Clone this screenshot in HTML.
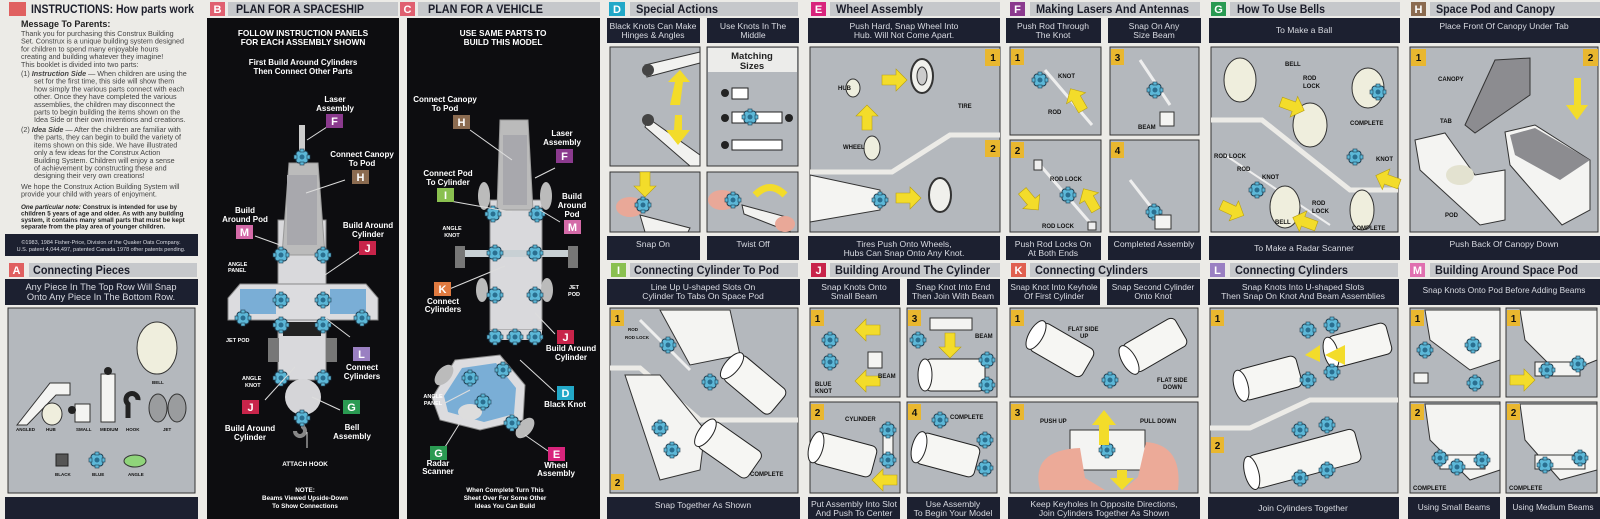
<!DOCTYPE html>
<html><head><meta charset="utf-8"><style>
html,body{margin:0;padding:0;background:#ecebe7;}
svg{display:block}
text{font-family:"Liberation Sans",sans-serif}
.h{font-weight:bold;font-size:12px;fill:#1b1d2a}
.bl{font-weight:bold;font-size:11px;fill:#fff}
.c{font-size:9.3px;fill:#d9dbe2;text-anchor:middle}
.w{font-weight:bold;fill:#fff;text-anchor:middle;font-size:8px}
.lb{font-weight:bold;fill:#111;font-size:6px}
.t{font-size:7.2px;fill:#444}
.n{font-weight:bold;font-size:10px;fill:#111;text-anchor:middle}
</style></head><body>
<svg width="1600" height="519" viewBox="0 0 1600 519" xmlns="http://www.w3.org/2000/svg">
<defs>
<g id="k"><rect x="-6" y="-6" width="12" height="12" rx="3" fill="#5cb8d8" stroke="#1d3d50" stroke-width="1"/><circle r="2.5" fill="#2a6f90"/><rect x="-2" y="-8" width="4" height="3" fill="#5cb8d8" stroke="#1d3d50" stroke-width=".6"/><rect x="-2" y="5" width="4" height="3" fill="#5cb8d8" stroke="#1d3d50" stroke-width=".6"/><rect x="-8" y="-2" width="3" height="4" fill="#5cb8d8" stroke="#1d3d50" stroke-width=".6"/><rect x="5" y="-2" width="3" height="4" fill="#5cb8d8" stroke="#1d3d50" stroke-width=".6"/></g>
<g id="a"><polygon points="-12,-5 2,-5 2,-11 13,0 2,11 2,5 -12,5" fill="#f3dc2a" stroke="#b9a010" stroke-width=".6"/></g>
<g id="cy"><rect x="-30" y="-16" width="60" height="32" rx="6" fill="#f6f6f3" stroke="#222" stroke-width="1"/><ellipse cx="-30" cy="0" rx="7" ry="16" fill="#fff" stroke="#222"/></g>
</defs>
<rect width="1600" height="519" fill="#ecebe7"/>

<!-- ========== A TOP ========== -->
<rect x="9" y="2" width="17" height="14" fill="#e06060"/>
<text x="31" y="13" class="h" textLength="163" lengthAdjust="spacingAndGlyphs">INSTRUCTIONS: How parts work</text>
<text x="21" y="27" style="font-weight:bold;font-size:9px;fill:#222">Message To Parents:</text>
<text x="21" y="36" class="t">Thank you for purchasing this Construx Building</text>
<text x="21" y="43.7" class="t">Set. Construx is a unique building system designed</text>
<text x="21" y="51.4" class="t">for children to spend many enjoyable hours</text>
<text x="21" y="59.1" class="t">creating and building whatever they imagine!</text>
<text x="21" y="67" class="t">This booklet is divided into two parts:</text>
<text x="21" y="76" class="t">(1) <tspan font-weight="bold" font-style="italic">Instruction Side</tspan> — When children are using the</text>
<text x="34" y="83.7" class="t">set for the first time, this side will show them</text>
<text x="34" y="91.4" class="t">how simply the various parts connect with each</text>
<text x="34" y="99.1" class="t">other. Once they have completed the various</text>
<text x="34" y="106.8" class="t">assemblies, the children may disconnect the</text>
<text x="34" y="114.5" class="t">parts to begin building the items shown on the</text>
<text x="34" y="122.2" class="t">Idea Side or their own inventions and creations.</text>
<text x="21" y="132" class="t">(2) <tspan font-weight="bold" font-style="italic">Idea Side</tspan> — After the children are familiar with</text>
<text x="34" y="139.7" class="t">the parts, they can begin to build the variety of</text>
<text x="34" y="147.4" class="t">items shown on this side. We have illustrated</text>
<text x="34" y="155.1" class="t">only a few ideas for the Construx Action</text>
<text x="34" y="162.8" class="t">Building System. Children will enjoy a sense</text>
<text x="34" y="170.5" class="t">of achievement by constructing these and</text>
<text x="34" y="178.2" class="t">designing their very own creations!</text>
<text x="21" y="189" class="t">We hope the Construx Action Building System will</text>
<text x="21" y="196.7" class="t">provide your child with years of enjoyment.</text>
<text x="21" y="209" style="font-weight:bold;font-size:6.3px;fill:#222"><tspan font-style="italic">One particular note:</tspan> Construx is intended for use by</text>
<text x="21" y="215.5" style="font-weight:bold;font-size:6.3px;fill:#222">children 5 years of age and older. As with any building</text>
<text x="21" y="222" style="font-weight:bold;font-size:6.3px;fill:#222">system, it contains many small parts that must be kept</text>
<text x="21" y="228.5" style="font-weight:bold;font-size:6.3px;fill:#222">separate from the play area of younger children.</text>
<rect x="5" y="234" width="193" height="22" fill="#1c2030"/>
<text x="101" y="244" class="c" style="font-size:5.5px">©1983, 1984 Fisher-Price, Division of the Quaker Oats Company.</text>
<text x="101" y="251" class="c" style="font-size:5.5px">U.S. patent 4,044,497, patented Canada 1978 other patents pending.</text>

<!-- ========== A BOTTOM ========== -->
<rect x="9" y="263" width="15" height="14" fill="#e06060"/><text x="16.5" y="274" class="bl" text-anchor="middle">A</text>
<rect x="29" y="263" width="168" height="14" fill="#c6c8cb"/>
<text x="33" y="274" class="h" textLength="97" lengthAdjust="spacingAndGlyphs">Connecting Pieces</text>
<rect x="5" y="279" width="193" height="26" fill="#1c2030"/>
<text x="101" y="290" class="c">Any Piece In The Top Row Will Snap</text>
<text x="101" y="300" class="c">Onto Any Piece In The Bottom Row.</text>
<rect x="8" y="308" width="187" height="185" fill="#b4b8bd" stroke="#333"/>
<ellipse cx="157" cy="348" rx="20" ry="26" fill="#efeedd" stroke="#333"/><text x="152" y="384" class="lb" style="font-size:4.5px">BELL</text>
<polygon points="17,425 50,383 70,383 70,395 56,395 27,425" fill="#f4f4f2" stroke="#333"/>
<ellipse cx="52" cy="414" rx="10" ry="11" fill="#efeedd" stroke="#333"/>
<rect x="75" y="404" width="15" height="18" fill="#f4f4f2" stroke="#333"/><circle cx="72" cy="410" r="4" fill="#222"/>
<rect x="101" y="374" width="14" height="48" fill="#f4f4f2" stroke="#333"/><circle cx="108" cy="371" r="4" fill="#222"/>
<path d="M128,418 v-14 a6,6 0 1 1 10,-4" stroke="#222" stroke-width="5" fill="none"/>
<ellipse cx="158" cy="408" rx="9" ry="14" fill="#9a9c9e" stroke="#333"/><ellipse cx="177" cy="408" rx="9" ry="14" fill="#9a9c9e" stroke="#333"/>
<g class="lb" style="font-size:4.5px"><text x="16" y="431">ANGLED</text><text x="46" y="431">HUB</text><text x="76" y="431">SMALL</text><text x="100" y="431">MEDIUM</text><text x="126" y="431">HOOK</text><text x="163" y="431">JET</text></g>
<use href="#k" x="97" y="460"/>
<rect x="56" y="454" width="12" height="12" fill="#555" stroke="#222"/>
<ellipse cx="135" cy="461" rx="11" ry="6" fill="#8fd47a" stroke="#333"/>
<g class="lb" style="font-size:4.5px"><text x="55" y="476">BLACK</text><text x="92" y="476">BLUE</text><text x="128" y="476">ANGLE</text></g>
<rect x="5" y="497" width="193" height="22" fill="#1c2030"/>

<!-- ========== B ========== -->
<rect x="210" y="2" width="15" height="14" fill="#e06070"/><text x="217.5" y="13" class="bl" text-anchor="middle">B</text>
<rect x="228" y="2" width="170" height="14" fill="#c6c8cb"/><text x="236" y="13" class="h" textLength="128" lengthAdjust="spacingAndGlyphs">PLAN FOR A SPACESHIP</text>
<rect x="207" y="18" width="192" height="501" fill="#0d0d10"/>
<text x="303" y="36" class="w" style="font-size:8.3px">FOLLOW INSTRUCTION PANELS</text>
<text x="303" y="45" class="w" style="font-size:8.3px">FOR EACH ASSEMBLY SHOWN</text>
<text x="303" y="65" class="w">First Build Around Cylinders</text>
<text x="303" y="74" class="w">Then Connect Other Parts</text>
<rect x="299" y="125" width="6" height="32" fill="#ccc"/>
<rect x="278" y="220" width="48" height="160" fill="#d9d9dc" stroke="#888"/>
<polygon points="289,163 318,163 325,255 282,255" fill="#bbb" stroke="#999"/>
<rect x="287" y="175" width="30" height="70" fill="#a8a8ad"/>
<polygon points="240,284 366,284 378,298 378,320 228,320 228,298" fill="#dcdcdf" stroke="#888"/>
<rect x="240" y="289" width="36" height="25" fill="#7aaed6"/><rect x="330" y="289" width="36" height="25" fill="#7aaed6"/>
<rect x="283" y="322" width="38" height="14" fill="#222"/>
<rect x="268" y="338" width="11" height="24" fill="#777"/><rect x="326" y="338" width="11" height="24" fill="#777"/>
<circle cx="303" cy="397" r="18" fill="#d5d5d8"/>
<path d="M303,415 v12 a5,5 0 1 1 -8,4" stroke="#888" stroke-width="4" fill="none"/>
<use href="#k" x="302" y="157"/><use href="#k" x="281" y="255"/><use href="#k" x="323" y="255"/><use href="#k" x="281" y="300"/><use href="#k" x="323" y="300"/><use href="#k" x="243" y="318"/><use href="#k" x="362" y="318"/><use href="#k" x="281" y="325"/><use href="#k" x="323" y="325"/><use href="#k" x="281" y="378"/><use href="#k" x="323" y="378"/><use href="#k" x="302" y="418"/>
<g stroke="#ddd" stroke-width="1"><line x1="307" y1="140" x2="330" y2="125"/><line x1="306" y1="193" x2="345" y2="180"/><line x1="255" y1="236" x2="280" y2="245"/><line x1="363" y1="249" x2="325" y2="275"/><line x1="350" y1="337" x2="325" y2="318"/><line x1="265" y1="400" x2="295" y2="367"/><line x1="340" y1="410" x2="312" y2="397"/><line x1="307" y1="448" x2="307" y2="432"/></g>
<text x="335" y="102" class="w">Laser</text><text x="335" y="111" class="w">Assembly</text>
<rect x="326" y="114" width="17" height="14" fill="#8b3a8e"/><text x="334.5" y="125" class="bl" text-anchor="middle">F</text>
<text x="362" y="157" class="w">Connect Canopy</text><text x="362" y="166" class="w">To  Pod</text>
<rect x="352" y="170" width="17" height="14" fill="#8b6b50"/><text x="360.5" y="181" class="bl" text-anchor="middle">H</text>
<text x="245" y="213" class="w">Build</text><text x="245" y="222" class="w">Around Pod</text>
<rect x="236" y="225" width="17" height="14" fill="#d46aa8"/><text x="244.5" y="236" class="bl" text-anchor="middle">M</text>
<text x="368" y="228" class="w">Build Around</text><text x="368" y="237" class="w">Cylinder</text>
<rect x="359" y="241" width="17" height="14" fill="#c8244a"/><text x="367.5" y="252" class="bl" text-anchor="middle">J</text>
<text x="228" y="266" class="lb" style="fill:#fff;font-size:5.5px">ANGLE</text><text x="228" y="272" class="lb" style="fill:#fff;font-size:5.5px">PANEL</text>
<text x="226" y="342" class="lb" style="fill:#fff;font-size:5.5px">JET POD</text>
<rect x="353" y="347" width="17" height="14" fill="#9a80c2"/><text x="361.5" y="358" class="bl" text-anchor="middle">L</text>
<text x="362" y="370" class="w">Connect</text><text x="362" y="379" class="w">Cylinders</text>
<text x="242" y="380" class="lb" style="fill:#fff;font-size:5.5px">ANGLE</text><text x="245" y="387" class="lb" style="fill:#fff;font-size:5.5px">KNOT</text>
<rect x="242" y="400" width="17" height="14" fill="#c8244a"/><text x="250.5" y="411" class="bl" text-anchor="middle">J</text>
<text x="250" y="431" class="w">Build Around</text><text x="250" y="440" class="w">Cylinder</text>
<rect x="343" y="400" width="17" height="14" fill="#2a9a52"/><text x="351.5" y="411" class="bl" text-anchor="middle">G</text>
<text x="352" y="430" class="w">Bell</text><text x="352" y="439" class="w">Assembly</text>
<text x="305" y="466" class="w" style="font-size:6.3px">ATTACH HOOK</text>
<text x="305" y="492" class="w" style="font-size:6.3px">NOTE:</text>
<text x="305" y="500" class="w" style="font-size:6.3px">Beams Viewed Upside-Down</text>
<text x="305" y="508" class="w" style="font-size:6.3px">To Show Connections</text>

<!-- ========== C ========== -->
<rect x="400" y="2" width="15" height="14" fill="#e06070"/><text x="407.5" y="13" class="bl" text-anchor="middle">C</text>
<rect x="418" y="2" width="182" height="14" fill="#c6c8cb"/><text x="428" y="13" class="h" textLength="115" lengthAdjust="spacingAndGlyphs">PLAN FOR A VEHICLE</text>
<rect x="407" y="18" width="193" height="501" fill="#0d0d10"/>
<text x="503" y="36" class="w" style="font-size:8.3px">USE SAME PARTS TO</text>
<text x="503" y="45" class="w" style="font-size:8.3px">BUILD THIS MODEL</text>
<rect x="490" y="200" width="52" height="130" fill="#d9d9dc" stroke="#888"/>
<polygon points="500,120 528,120 533,210 497,210" fill="#bbb" stroke="#999"/>
<rect x="503" y="135" width="24" height="70" fill="#a8a8ad"/>
<ellipse cx="484" cy="196" rx="6" ry="14" fill="#bbb"/><ellipse cx="546" cy="196" rx="6" ry="14" fill="#bbb"/>
<rect x="457" y="250" width="120" height="7" fill="#c8d0d4"/>
<rect x="455" y="246" width="10" height="22" fill="#777"/><rect x="568" y="246" width="10" height="22" fill="#777"/>
<ellipse cx="482" cy="290" rx="6" ry="12" fill="#bbb"/><ellipse cx="547" cy="290" rx="6" ry="12" fill="#bbb"/>
<rect x="490" y="330" width="52" height="10" fill="#d9d9dc"/>
<polygon points="455,360 500,355 525,385 523,420 480,430 440,420 432,398" fill="#dcdcdf" stroke="#888"/>
<polygon points="462,368 496,363 516,388 514,414 484,422 448,412 444,396" fill="#7aaed6"/>
<ellipse cx="444" cy="375" rx="7" ry="12" fill="#bbb" transform="rotate(40 444 375)"/><ellipse cx="525" cy="428" rx="7" ry="12" fill="#bbb" transform="rotate(40 525 428)"/>
<ellipse cx="470" cy="412" rx="12" ry="8" fill="#ddd"/>
<use href="#k" x="493" y="214"/><use href="#k" x="537" y="214"/><use href="#k" x="495" y="253"/><use href="#k" x="535" y="253"/><use href="#k" x="495" y="295"/><use href="#k" x="535" y="295"/><use href="#k" x="495" y="337"/><use href="#k" x="515" y="337"/><use href="#k" x="535" y="337"/><use href="#k" x="503" y="370"/><use href="#k" x="470" y="378"/><use href="#k" x="483" y="402"/><use href="#k" x="512" y="423"/>
<g stroke="#ddd" stroke-width="1"><line x1="470" y1="130" x2="512" y2="160"/><line x1="555" y1="168" x2="535" y2="178"/><line x1="450" y1="201" x2="512" y2="212"/><line x1="560" y1="222" x2="540" y2="210"/><line x1="447" y1="290" x2="505" y2="266"/><line x1="555" y1="334" x2="535" y2="313"/><line x1="555" y1="392" x2="520" y2="360"/><line x1="445" y1="403" x2="470" y2="390"/><line x1="445" y1="447" x2="468" y2="410"/><line x1="548" y1="451" x2="525" y2="435"/></g>
<text x="445" y="102" class="w">Connect Canopy</text><text x="445" y="111" class="w">To  Pod</text>
<rect x="453" y="115" width="17" height="14" fill="#8b6b50"/><text x="461.5" y="126" class="bl" text-anchor="middle">H</text>
<text x="562" y="136" class="w">Laser</text><text x="562" y="145" class="w">Assembly</text>
<rect x="556" y="149" width="17" height="14" fill="#8b3a8e"/><text x="564.5" y="160" class="bl" text-anchor="middle">F</text>
<text x="448" y="176" class="w">Connect  Pod</text><text x="448" y="185" class="w">To Cylinder</text>
<rect x="437" y="188" width="17" height="14" fill="#8ac050"/><text x="445.5" y="199" class="bl" text-anchor="middle">I</text>
<text x="572" y="199" class="w">Build</text><text x="572" y="208" class="w">Around</text><text x="572" y="217" class="w">Pod</text>
<rect x="564" y="220" width="17" height="14" fill="#d46aa8"/><text x="572.5" y="231" class="bl" text-anchor="middle">M</text>
<text x="452" y="230" class="w" style="font-size:5.5px">ANGLE</text><text x="452" y="237" class="w" style="font-size:5.5px">KNOT</text>
<rect x="434" y="282" width="17" height="14" fill="#e07a40"/><text x="442.5" y="293" class="bl" text-anchor="middle">K</text>
<text x="443" y="304" class="w">Connect</text><text x="443" y="312" class="w">Cylinders</text>
<text x="574" y="289" class="w" style="font-size:5.5px">JET</text><text x="574" y="296" class="w" style="font-size:5.5px">POD</text>
<rect x="557" y="330" width="17" height="14" fill="#c8244a"/><text x="565.5" y="341" class="bl" text-anchor="middle">J</text>
<text x="571" y="351" class="w">Build Around</text><text x="571" y="360" class="w">Cylinder</text>
<rect x="557" y="386" width="17" height="14" fill="#22a8c8"/><text x="565.5" y="397" class="bl" text-anchor="middle">D</text>
<text x="565" y="407" class="w">Black Knot</text>
<text x="433" y="398" class="w" style="font-size:5.5px">ANGLE</text><text x="433" y="405" class="w" style="font-size:5.5px">PANEL</text>
<rect x="430" y="446" width="17" height="14" fill="#2a9a52"/><text x="438.5" y="457" class="bl" text-anchor="middle">G</text>
<text x="438" y="466" class="w">Radar</text><text x="438" y="474" class="w">Scanner</text>
<rect x="548" y="447" width="17" height="14" fill="#d8247c"/><text x="556.5" y="458" class="bl" text-anchor="middle">E</text>
<text x="556" y="468" class="w">Wheel</text><text x="556" y="476" class="w">Assembly</text>
<text x="505" y="492" class="w" style="font-size:6.3px">When Complete Turn This</text>
<text x="505" y="500" class="w" style="font-size:6.3px">Sheet Over For Some Other</text>
<text x="505" y="508" class="w" style="font-size:6.3px">Ideas You Can Build</text>

<!-- ========== D ========== -->
<rect x="609" y="2" width="16" height="14" fill="#22a8c8"/><text x="617" y="13" class="bl" text-anchor="middle">D</text>
<rect x="630" y="2" width="168" height="14" fill="#c6c8cb"/><text x="636" y="13" class="h" textLength="82" lengthAdjust="spacingAndGlyphs">Special Actions</text>
<rect x="607" y="18" width="93" height="25" fill="#1c2030"/><text x="653" y="29" class="c" style="font-size:8.6px">Black Knots Can Make</text><text x="653" y="38" class="c" style="font-size:8.6px">Hinges &amp; Angles</text>
<rect x="707" y="18" width="92" height="25" fill="#1c2030"/><text x="753" y="29" class="c" style="font-size:8.6px">Use Knots In The</text><text x="753" y="38" class="c" style="font-size:8.6px">Middle</text>
<rect x="610" y="47" width="90" height="119" fill="#b4b8bd" stroke="#333"/>
<polygon points="645,65 700,52 700,63 647,77" fill="#f2f2f0" stroke="#333"/><circle cx="648" cy="70" r="6" fill="#444"/>
<polygon points="648,118 700,155 700,166 690,166 645,127" fill="#f2f2f0" stroke="#333"/><circle cx="648" cy="120" r="6" fill="#444"/>
<polygon points="670,105 675,82 668,82 680,70 690,82 683,82 680,105" fill="#f3dc2a"/>
<polygon points="675,115 682,115 682,130 690,130 678,145 666,130 674,130" fill="#f3dc2a"/>
<rect x="707" y="47" width="91" height="119" fill="#b4b8bd" stroke="#333"/>
<rect x="708" y="48" width="89" height="24" fill="#ececea"/>
<text x="752" y="59" text-anchor="middle" style="font-weight:bold;font-size:9.5px;fill:#222">Matching</text>
<text x="752" y="69" text-anchor="middle" style="font-weight:bold;font-size:9.5px;fill:#222">Sizes</text>
<rect x="732" y="88" width="16" height="11" fill="#fff" stroke="#222"/><rect x="732" y="112" width="50" height="11" fill="#fff" stroke="#222"/><use href="#k" x="750" y="117"/>
<rect x="732" y="140" width="50" height="10" fill="#fff" stroke="#222"/>
<circle cx="725" cy="93" r="4" fill="#222"/><circle cx="725" cy="118" r="4" fill="#222"/><circle cx="789" cy="118" r="4" fill="#222"/><circle cx="725" cy="145" r="4" fill="#222"/>
<rect x="610" y="172" width="90" height="60" fill="#b4b8bd" stroke="#333"/>
<polygon points="640,215 690,228 688,232 645,232" fill="#f2f2f0" stroke="#333"/><ellipse cx="630" cy="207" rx="14" ry="10" fill="#e9a898"/><use href="#k" x="643" y="205"/><use href="#a" x="645" y="184" transform="rotate(90 645 184)"/>
<rect x="707" y="172" width="91" height="60" fill="#b4b8bd" stroke="#333"/>
<ellipse cx="722" cy="200" rx="14" ry="10" fill="#e9a898"/><use href="#k" x="733" y="200"/><polygon points="742,205 790,218 790,232 744,214" fill="#f2f2f0" stroke="#333"/><ellipse cx="785" cy="224" rx="10" ry="8" fill="#e9a898"/>
<path d="M755,195 q15,-15 30,0" stroke="#f3dc2a" stroke-width="7" fill="none"/>
<rect x="607" y="236" width="93" height="24" fill="#1c2030"/><text x="653" y="247" class="c" style="font-size:8.6px">Snap On</text>
<rect x="707" y="236" width="92" height="24" fill="#1c2030"/><text x="753" y="247" class="c" style="font-size:8.6px">Twist Off</text>

<!-- ========== E ========== -->
<rect x="811" y="2" width="15" height="14" fill="#d8247c"/><text x="818.5" y="13" class="bl" text-anchor="middle">E</text>
<rect x="830" y="2" width="170" height="14" fill="#c6c8cb"/><text x="836" y="13" class="h" textLength="87" lengthAdjust="spacingAndGlyphs">Wheel Assembly</text>
<rect x="808" y="18" width="192" height="25" fill="#1c2030"/><text x="904" y="29" class="c" style="font-size:8.6px">Push Hard, Snap Wheel Into</text><text x="904" y="38" class="c" style="font-size:8.6px">Hub. Will Not Come Apart.</text>
<rect x="810" y="47" width="190" height="185" fill="#b4b8bd" stroke="#333"/>
<polyline points="810,172 892,172 950,135 1000,135" stroke="#ecebe7" stroke-width="5" fill="none"/>
<rect x="985" y="49" width="15" height="17" fill="#e9b72f"/><text x="993" y="61" class="n">1</text>
<rect x="985" y="140" width="15" height="17" fill="#e9b72f"/><text x="993" y="152" class="n">2</text>
<ellipse cx="922" cy="76" rx="11" ry="17" fill="#f0f0ec" stroke="#333" stroke-width="2"/><ellipse cx="922" cy="76" rx="5" ry="9" fill="#ccc" stroke="#333"/>
<ellipse cx="853" cy="88" rx="7" ry="9" fill="#eeeede" stroke="#333"/>
<ellipse cx="872" cy="148" rx="8" ry="12" fill="#eeeede" stroke="#333"/>
<use href="#a" x="894" y="80"/><use href="#a" x="867" y="118" transform="rotate(-90 867 118)"/>
<text x="838" y="90" class="lb">HUB</text><text x="843" y="149" class="lb">WHEEL</text><text x="958" y="108" class="lb">TIRE</text>
<polygon points="810,175 880,190 880,210 810,222" fill="#f4f4f2" stroke="#333"/><use href="#k" x="880" y="200"/>
<use href="#a" x="908" y="198"/>
<ellipse cx="940" cy="195" rx="11" ry="17" fill="#f0f0ec" stroke="#333" stroke-width="2"/>
<rect x="808" y="236" width="192" height="24" fill="#1c2030"/><text x="904" y="247" class="c" style="font-size:8.6px">Tires Push Onto Wheels,</text><text x="904" y="256" class="c" style="font-size:8.6px">Hubs Can Snap Onto Any Knot.</text>

<!-- ========== F ========== -->
<rect x="1010" y="2" width="15" height="14" fill="#8b3a8e"/><text x="1017.5" y="13" class="bl" text-anchor="middle">F</text>
<rect x="1030" y="2" width="170" height="14" fill="#c6c8cb"/><text x="1036" y="13" class="h" textLength="153" lengthAdjust="spacingAndGlyphs">Making Lasers And Antennas</text>
<rect x="1006" y="18" width="95" height="25" fill="#1c2030"/><text x="1053" y="29" class="c" style="font-size:8.6px">Push Rod Through</text><text x="1053" y="38" class="c" style="font-size:8.6px">The Knot</text>
<rect x="1108" y="18" width="93" height="25" fill="#1c2030"/><text x="1154" y="29" class="c" style="font-size:8.6px">Snap On Any</text><text x="1154" y="38" class="c" style="font-size:8.6px">Size Beam</text>
<rect x="1010" y="47" width="91" height="88" fill="#b4b8bd" stroke="#333"/>
<rect x="1110" y="47" width="89" height="88" fill="#b4b8bd" stroke="#333"/>
<rect x="1010" y="140" width="91" height="92" fill="#b4b8bd" stroke="#333"/>
<rect x="1110" y="140" width="89" height="92" fill="#b4b8bd" stroke="#333"/>
<rect x="1011" y="49" width="13" height="16" fill="#e9b72f"/><text x="1017.5" y="61" class="n">1</text>
<rect x="1111" y="49" width="13" height="16" fill="#e9b72f"/><text x="1117.5" y="61" class="n">3</text>
<rect x="1011" y="142" width="13" height="16" fill="#e9b72f"/><text x="1017.5" y="154" class="n">2</text>
<rect x="1111" y="142" width="13" height="16" fill="#e9b72f"/><text x="1117.5" y="154" class="n">4</text>
<line x1="1045" y1="70" x2="1092" y2="125" stroke="#eee" stroke-width="3"/><use href="#k" x="1040" y="80"/><text x="1058" y="78" class="lb">KNOT</text><text x="1048" y="114" class="lb">ROD</text>
<use href="#a" x="1077" y="100" transform="rotate(-120 1077 100)"/>
<line x1="1140" y1="60" x2="1170" y2="105" stroke="#eee" stroke-width="3"/><use href="#k" x="1155" y="90"/><rect x="1160" y="112" width="14" height="14" fill="#f4f4f2" stroke="#333"/>
<text x="1138" y="129" class="lb">BEAM</text>
<line x1="1040" y1="165" x2="1092" y2="225" stroke="#eee" stroke-width="3"/><use href="#k" x="1068" y="195"/><rect x="1034" y="160" width="8" height="10" fill="#eee" stroke="#333"/><rect x="1088" y="222" width="8" height="8" fill="#eee" stroke="#333"/>
<text x="1050" y="181" class="lb">ROD LOCK</text><text x="1042" y="228" class="lb">ROD LOCK</text>
<use href="#a" x="1030" y="200" transform="rotate(50 1030 200)"/><use href="#a" x="1090" y="200" transform="rotate(-120 1090 200)"/>
<line x1="1130" y1="180" x2="1165" y2="225" stroke="#eee" stroke-width="3"/><use href="#k" x="1154" y="212"/><rect x="1155" y="215" width="16" height="14" fill="#f4f4f2" stroke="#333"/>
<rect x="1006" y="236" width="95" height="24" fill="#1c2030"/><text x="1053" y="247" class="c" style="font-size:8.6px">Push Rod Locks On</text><text x="1053" y="256" class="c" style="font-size:8.6px">At Both Ends</text>
<rect x="1108" y="236" width="93" height="24" fill="#1c2030"/><text x="1154" y="247" class="c" style="font-size:8.6px">Completed Assembly</text>

<!-- ========== G ========== -->
<rect x="1211" y="2" width="15" height="14" fill="#2a9a52"/><text x="1218.5" y="13" class="bl" text-anchor="middle">G</text>
<rect x="1230" y="2" width="170" height="14" fill="#c6c8cb"/><text x="1237" y="13" class="h" textLength="88" lengthAdjust="spacingAndGlyphs">How To Use Bells</text>
<rect x="1209" y="18" width="191" height="25" fill="#1c2030"/><text x="1304" y="33" class="c" style="font-size:8.6px">To Make a Ball</text>
<rect x="1211" y="47" width="187" height="185" fill="#b4b8bd" stroke="#333"/>
<polyline points="1211,120 1262,120 1350,190 1398,190" stroke="#ecebe7" stroke-width="5" fill="none"/>
<ellipse cx="1240" cy="80" rx="16" ry="22" fill="#efeedd" stroke="#333"/>
<ellipse cx="1310" cy="125" rx="17" ry="22" fill="#efeedd" stroke="#333"/>
<ellipse cx="1368" cy="88" rx="16" ry="20" fill="#efeedd" stroke="#333"/><use href="#k" x="1378" y="92"/>
<use href="#k" x="1355" y="157"/><use href="#a" x="1388" y="180" transform="rotate(200 1388 180)"/><use href="#a" x="1292" y="106" transform="rotate(20 1292 106)"/>
<text x="1285" y="66" class="lb">BELL</text><text x="1303" y="80" class="lb">ROD</text><text x="1303" y="88" class="lb">LOCK</text><text x="1350" y="125" class="lb">COMPLETE</text><text x="1376" y="161" class="lb">KNOT</text>
<line x1="1225" y1="155" x2="1330" y2="225" stroke="#eee" stroke-width="2"/>
<use href="#k" x="1257" y="190"/><ellipse cx="1285" cy="207" rx="15" ry="21" fill="#efeedd" stroke="#333"/>
<ellipse cx="1362" cy="210" rx="12" ry="20" fill="#efeedd" stroke="#333"/>
<use href="#a" x="1232" y="210" transform="rotate(25 1232 210)"/><use href="#a" x="1305" y="222" transform="rotate(200 1305 222)"/>
<text x="1214" y="158" class="lb">ROD LOCK</text><text x="1237" y="171" class="lb">ROD</text><text x="1262" y="179" class="lb">KNOT</text>
<text x="1275" y="224" class="lb">BELL</text><text x="1312" y="205" class="lb">ROD</text><text x="1312" y="213" class="lb">LOCK</text><text x="1352" y="230" class="lb">COMPLETE</text>
<rect x="1209" y="236" width="191" height="24" fill="#1c2030"/><text x="1304" y="251" class="c" style="font-size:8.6px">To Make a Radar Scanner</text>

<!-- ========== H ========== -->
<rect x="1411" y="2" width="15" height="14" fill="#8b6b50"/><text x="1418.5" y="13" class="bl" text-anchor="middle">H</text>
<rect x="1430" y="2" width="170" height="14" fill="#c6c8cb"/><text x="1436" y="13" class="h" textLength="119" lengthAdjust="spacingAndGlyphs">Space Pod and Canopy</text>
<rect x="1409" y="18" width="191" height="25" fill="#1c2030"/><text x="1504" y="29" class="c" style="font-size:8.6px">Place Front Of Canopy Under Tab</text>
<rect x="1410" y="47" width="188" height="185" fill="#b4b8bd" stroke="#333"/>
<rect x="1411" y="49" width="15" height="17" fill="#e9b72f"/><text x="1418.5" y="61" class="n">1</text>
<rect x="1583" y="49" width="15" height="17" fill="#e9b72f"/><text x="1590.5" y="61" class="n">2</text>
<polygon points="1465,125 1495,60 1530,58 1530,95 1475,133" fill="#8c8c90" stroke="#333"/>
<polygon points="1415,140 1445,133 1475,175 1505,170 1505,220 1480,225 1420,170" fill="#f4f4f2" stroke="#333"/>
<ellipse cx="1460" cy="175" rx="14" ry="10" fill="#e3e2d0"/>
<polygon points="1505,132 1535,125 1590,160 1590,210 1562,225 1510,165" fill="#f4f4f2" stroke="#333"/>
<polygon points="1510,135 1535,128 1590,160 1560,180 1515,155" fill="#8c8c90"/>
<polygon points="1574,78 1581,78 1581,105 1588,105 1577,120 1566,105 1574,105" fill="#f3dc2a"/>
<text x="1438" y="81" class="lb">CANOPY</text><text x="1440" y="123" class="lb">TAB</text><text x="1445" y="217" class="lb">POD</text>
<rect x="1409" y="236" width="191" height="24" fill="#1c2030"/><text x="1504" y="247" class="c" style="font-size:8.6px">Push Back Of Canopy Down</text>

<!-- ========== I ========== -->
<rect x="611" y="263" width="15" height="14" fill="#8ac050"/><text x="618.5" y="274" class="bl" text-anchor="middle">I</text>
<rect x="630" y="263" width="168" height="14" fill="#c6c8cb"/><text x="634" y="274" class="h" textLength="145" lengthAdjust="spacingAndGlyphs">Connecting Cylinder To Pod</text>
<rect x="607" y="279" width="193" height="26" fill="#1c2030"/><text x="703" y="290" class="c" style="font-size:8.6px">Line Up U-shaped Slots On</text><text x="703" y="299" class="c" style="font-size:8.6px">Cylinder To Tabs On Space Pod</text>
<rect x="610" y="308" width="188" height="185" fill="#b4b8bd" stroke="#333"/>
<polyline points="610,368 640,368 700,420 798,420" stroke="#ecebe7" stroke-width="5" fill="none"/>
<rect x="611" y="310" width="13" height="16" fill="#e9b72f"/><text x="617.5" y="322" class="n">1</text>
<rect x="611" y="474" width="13" height="16" fill="#e9b72f"/><text x="617.5" y="486" class="n">2</text>
<polygon points="660,310 730,310 740,355 690,365" fill="#f4f4f2" stroke="#333"/>
<g transform="translate(755,385) rotate(40)"><use href="#cy"/></g>
<line x1="640" y1="320" x2="690" y2="370" stroke="#eee" stroke-width="3"/><use href="#k" x="668" y="345"/><use href="#k" x="710" y="382"/>
<polygon points="625,375 660,375 705,430 700,470 660,480" fill="#f4f4f2" stroke="#333"/>
<g transform="translate(730,450) rotate(35)"><use href="#cy"/></g>
<use href="#k" x="660" y="428"/><use href="#k" x="672" y="450"/>
<text x="750" y="476" class="lb">COMPLETE</text>
<text x="628" y="331" class="lb" style="font-size:4.5px">ROD</text><text x="625" y="339" class="lb" style="font-size:4.5px">ROD LOCK</text>
<rect x="607" y="497" width="193" height="22" fill="#1c2030"/><text x="703" y="508" class="c" style="font-size:8.6px">Snap Together As Shown</text>

<!-- ========== J ========== -->
<rect x="811" y="263" width="15" height="14" fill="#c8244a"/><text x="818.5" y="274" class="bl" text-anchor="middle">J</text>
<rect x="830" y="263" width="170" height="14" fill="#c6c8cb"/><text x="835" y="274" class="h" textLength="155" lengthAdjust="spacingAndGlyphs">Building Around The Cylinder</text>
<rect x="808" y="279" width="92" height="26" fill="#1c2030"/><text x="854" y="290" class="c" style="font-size:8.6px">Snap Knots Onto</text><text x="854" y="299" class="c" style="font-size:8.6px">Small Beam</text>
<rect x="907" y="279" width="93" height="26" fill="#1c2030"/><text x="953" y="290" class="c" style="font-size:8.6px">Snap Knot Into End</text><text x="953" y="299" class="c" style="font-size:8.6px">Then Join With Beam</text>
<rect x="810" y="308" width="90" height="89" fill="#b4b8bd" stroke="#333"/>
<rect x="907" y="308" width="90" height="89" fill="#b4b8bd" stroke="#333"/>
<rect x="810" y="402" width="90" height="91" fill="#b4b8bd" stroke="#333"/>
<rect x="907" y="402" width="90" height="91" fill="#b4b8bd" stroke="#333"/>
<rect x="811" y="310" width="13" height="16" fill="#e9b72f"/><text x="817.5" y="322" class="n">1</text>
<rect x="908" y="310" width="13" height="16" fill="#e9b72f"/><text x="914.5" y="322" class="n">3</text>
<rect x="811" y="404" width="13" height="16" fill="#e9b72f"/><text x="817.5" y="416" class="n">2</text>
<rect x="908" y="404" width="13" height="16" fill="#e9b72f"/><text x="914.5" y="416" class="n">4</text>
<use href="#k" x="830" y="340"/><use href="#k" x="830" y="362"/><rect x="868" y="352" width="14" height="16" fill="#f4f4f2" stroke="#333"/>
<use href="#a" x="868" y="330" transform="rotate(180 868 330)"/><use href="#a" x="868" y="381" transform="rotate(180 868 381)"/>
<text x="815" y="386" class="lb">BLUE</text><text x="815" y="393" class="lb">KNOT</text><text x="878" y="378" class="lb">BEAM</text>
<g transform="translate(955,375)"><use href="#cy"/></g><rect x="930" y="318" width="42" height="12" fill="#f4f4f2" stroke="#333"/><use href="#k" x="918" y="340"/><use href="#k" x="987" y="360"/><use href="#k" x="987" y="385"/><use href="#a" x="950" y="345" transform="rotate(90 950 345)"/>
<text x="975" y="338" class="lb">BEAM</text>
<g transform="translate(845,455) rotate(15)"><use href="#cy"/></g><rect x="883" y="430" width="10" height="30" fill="#f4f4f2" stroke="#333"/><use href="#k" x="888" y="430"/><use href="#k" x="888" y="460"/><use href="#a" x="885" y="480" transform="rotate(180 885 480)"/>
<text x="845" y="421" class="lb">CYLINDER</text>
<g transform="translate(948,455) rotate(15)"><use href="#cy"/></g><use href="#k" x="940" y="420"/><use href="#k" x="985" y="440"/><use href="#k" x="985" y="468"/>
<text x="950" y="419" class="lb">COMPLETE</text>
<rect x="808" y="497" width="92" height="22" fill="#1c2030"/><text x="854" y="507" class="c" style="font-size:8.6px">Put Assembly Into Slot</text><text x="854" y="516" class="c" style="font-size:8.6px">And Push To Center</text>
<rect x="907" y="497" width="93" height="22" fill="#1c2030"/><text x="953" y="507" class="c" style="font-size:8.6px">Use Assembly</text><text x="953" y="516" class="c" style="font-size:8.6px">To Begin Your Model</text>

<!-- ========== K ========== -->
<rect x="1011" y="263" width="15" height="14" fill="#e06050"/><text x="1018.5" y="274" class="bl" text-anchor="middle">K</text>
<rect x="1030" y="263" width="170" height="14" fill="#c6c8cb"/><text x="1035" y="274" class="h" textLength="113" lengthAdjust="spacingAndGlyphs">Connecting Cylinders</text>
<rect x="1008" y="279" width="92" height="26" fill="#1c2030"/><text x="1054" y="290" class="c" style="font-size:8.3px">Snap Knot Into Keyhole</text><text x="1054" y="299" class="c" style="font-size:8.3px">Of First Cylinder</text>
<rect x="1107" y="279" width="93" height="26" fill="#1c2030"/><text x="1153" y="290" class="c" style="font-size:8.3px">Snap Second Cylinder</text><text x="1153" y="299" class="c" style="font-size:8.3px">Onto Knot</text>
<rect x="1010" y="308" width="188" height="89" fill="#b4b8bd" stroke="#333"/>
<rect x="1010" y="402" width="188" height="91" fill="#b4b8bd" stroke="#333"/>
<rect x="1011" y="310" width="13" height="16" fill="#e9b72f"/><text x="1017.5" y="322" class="n">1</text>
<rect x="1011" y="404" width="13" height="16" fill="#e9b72f"/><text x="1017.5" y="416" class="n">3</text>
<g transform="translate(1062,350) rotate(30)"><use href="#cy"/></g><g transform="translate(1155,345) rotate(-30)"><use href="#cy"/></g><use href="#k" x="1110" y="380"/>
<text x="1068" y="331" class="lb">FLAT SIDE</text><text x="1080" y="338" class="lb">UP</text><text x="1157" y="382" class="lb">FLAT SIDE</text><text x="1163" y="389" class="lb">DOWN</text>
<rect x="1070" y="430" width="75" height="40" fill="#f4f4f2" stroke="#333"/><use href="#k" x="1107" y="450"/>
<path d="M1040,490 q-10,-40 40,-42 l5,30 l20,12 z" fill="#ecaa98"/><path d="M1178,490 q5,-45 -32,-48 l-8,35 l-15,13 z" fill="#ecaa98"/>
<polygon points="1099,445 1099,425 1092,425 1104,410 1116,425 1109,425 1109,445" fill="#f3dc2a"/>
<polygon points="1117,470 1117,478 1110,478 1122,490 1134,478 1127,478 1127,470" fill="#f3dc2a"/>
<text x="1040" y="423" class="lb">PUSH UP</text><text x="1140" y="423" class="lb">PULL DOWN</text>
<rect x="1008" y="497" width="192" height="22" fill="#1c2030"/><text x="1104" y="507" class="c" style="font-size:8.6px">Keep Keyholes In Opposite Directions,</text><text x="1104" y="516" class="c" style="font-size:8.6px">Join Cylinders Together As Shown</text>

<!-- ========== L ========== -->
<rect x="1210" y="263" width="15" height="14" fill="#9a80c2"/><text x="1217.5" y="274" class="bl" text-anchor="middle">L</text>
<rect x="1230" y="263" width="168" height="14" fill="#c6c8cb"/><text x="1235" y="274" class="h" textLength="113" lengthAdjust="spacingAndGlyphs">Connecting Cylinders</text>
<rect x="1208" y="279" width="191" height="26" fill="#1c2030"/><text x="1303" y="290" class="c" style="font-size:8.6px">Snap Knots Into U-shaped Slots</text><text x="1303" y="299" class="c" style="font-size:8.6px">Then Snap On Knot And Beam Assemblies</text>
<rect x="1210" y="308" width="188" height="185" fill="#b4b8bd" stroke="#333"/>
<polyline points="1210,428 1250,428 1310,400 1398,400" stroke="#ecebe7" stroke-width="5" fill="none"/>
<rect x="1211" y="310" width="13" height="16" fill="#e9b72f"/><text x="1217.5" y="322" class="n">1</text>
<rect x="1211" y="437" width="13" height="16" fill="#e9b72f"/><text x="1217.5" y="449" class="n">2</text>
<g transform="translate(1270,378) rotate(-15)"><use href="#cy"/></g><g transform="translate(1360,345) rotate(-15)"><use href="#cy"/></g>
<use href="#k" x="1308" y="330"/><use href="#k" x="1332" y="325"/><use href="#k" x="1308" y="380"/><use href="#k" x="1332" y="372"/>
<polygon points="1305,355 1320,345 1320,362" fill="#f3dc2a"/><polygon points="1345,345 1325,355 1345,365" fill="#f3dc2a"/>
<g transform="translate(1300,460) rotate(-15)"><rect x="-50" y="-17" width="110" height="34" rx="6" fill="#f6f6f3" stroke="#222"/><ellipse cx="-50" cy="0" rx="7" ry="17" fill="#fff" stroke="#222"/></g>
<use href="#k" x="1300" y="430"/><use href="#k" x="1327" y="425"/><use href="#k" x="1300" y="478"/><use href="#k" x="1327" y="470"/>
<rect x="1208" y="497" width="191" height="22" fill="#1c2030"/><text x="1303" y="511" class="c" style="font-size:8.6px">Join Cylinders Together</text>

<!-- ========== M ========== -->
<rect x="1410" y="263" width="15" height="14" fill="#e070b0"/><text x="1417.5" y="274" class="bl" text-anchor="middle">M</text>
<rect x="1430" y="263" width="170" height="14" fill="#c6c8cb"/><text x="1435" y="274" class="h" textLength="143" lengthAdjust="spacingAndGlyphs">Building Around Space Pod</text>
<rect x="1408" y="279" width="192" height="26" fill="#1c2030"/><text x="1504" y="293" class="c" style="font-size:8.3px">Snap Knots Onto Pod Before Adding Beams</text>
<rect x="1410" y="308" width="90" height="89" fill="#b4b8bd" stroke="#333"/>
<rect x="1506" y="308" width="91" height="89" fill="#b4b8bd" stroke="#333"/>
<rect x="1410" y="402" width="90" height="91" fill="#b4b8bd" stroke="#333"/>
<rect x="1506" y="402" width="91" height="91" fill="#b4b8bd" stroke="#333"/>
<g fill="#f4f4f2" stroke="#333">
<polygon points="1425,310 1500,310 1500,360 1470,370 1430,340"/>
<polygon points="1520,310 1597,310 1597,360 1560,375 1525,340"/>
<polygon points="1425,404 1500,404 1500,470 1470,480 1430,440"/>
<polygon points="1520,404 1597,404 1597,470 1560,480 1525,440"/>
</g>
<rect x="1411" y="310" width="13" height="16" fill="#e9b72f"/><text x="1417.5" y="322" class="n">1</text>
<rect x="1507" y="310" width="13" height="16" fill="#e9b72f"/><text x="1513.5" y="322" class="n">1</text>
<rect x="1411" y="404" width="13" height="16" fill="#e9b72f"/><text x="1417.5" y="416" class="n">2</text>
<rect x="1507" y="404" width="13" height="16" fill="#e9b72f"/><text x="1513.5" y="416" class="n">2</text>
<use href="#k" x="1425" y="350"/><use href="#k" x="1473" y="345"/><use href="#k" x="1475" y="383"/><rect x="1414" y="373" width="14" height="10" fill="#f4f4f2" stroke="#333"/>
<rect x="1535" y="362" width="45" height="14" fill="#f4f4f2" stroke="#333"/><use href="#k" x="1547" y="370"/><use href="#k" x="1578" y="364"/><use href="#a" x="1522" y="380"/>
<rect x="1440" y="455" width="45" height="14" fill="#f4f4f2" stroke="#333"/><use href="#k" x="1440" y="458"/><use href="#k" x="1457" y="467"/><use href="#k" x="1482" y="460"/>
<rect x="1535" y="455" width="50" height="14" fill="#f4f4f2" stroke="#333"/><use href="#k" x="1545" y="465"/><use href="#k" x="1580" y="458"/>
<text x="1413" y="490" class="lb">COMPLETE</text><text x="1509" y="490" class="lb">COMPLETE</text>
<rect x="1408" y="497" width="92" height="22" fill="#1c2030"/><text x="1454" y="510" class="c" style="font-size:8.3px">Using Small Beams</text>
<rect x="1506" y="497" width="94" height="22" fill="#1c2030"/><text x="1553" y="510" class="c" style="font-size:8.3px">Using Medium Beams</text>
</svg>
</body></html>
